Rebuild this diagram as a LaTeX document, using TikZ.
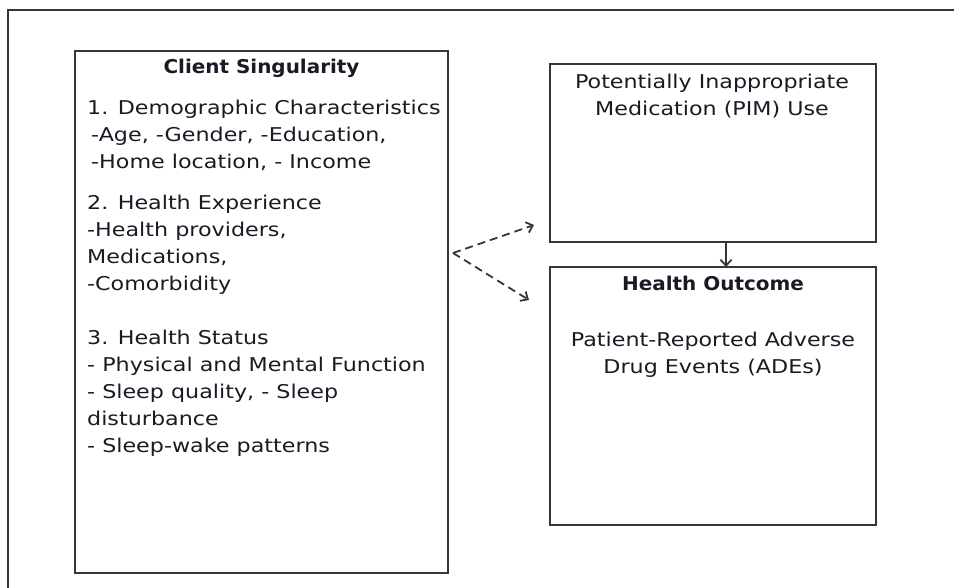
\documentclass[tikz,border=0pt]{standalone}
\usepackage{fontspec}
\setmainfont[FakeStretch=1.17,BoldFeatures={FakeStretch=1.05}]{DejaVu Sans}
\usetikzlibrary{positioning,arrows.meta}
\definecolor{boxgray}{HTML}{363636}
\definecolor{inkcol}{HTML}{1A1A24}

\begin{document}
\begin{tikzpicture}[x=1pt,y=-1pt,
    box/.style={draw=boxgray,line width=2pt,inner sep=0pt,outer sep=0pt},
    body/.style={inner sep=0pt,text=inkcol,font=\fontsize{19}{27}\selectfont},
    heading/.style={body,font=\fontsize{19}{27}\selectfont\bfseries},
    link/.style={draw=boxgray,line width=1.8pt,-{Straight Barb[length=6pt,width=11pt]}},
    dashedlink/.style={link,dash pattern=on 8pt off 5pt}]
    \useasboundingbox (0,0) rectangle (954,588);
    \draw[boxgray,line width=1.8pt] (8,588) -- (8,10) -- (954,10);

    \node[box,minimum width=373pt,minimum height=522pt] (client) at (261.5,312) {};
    \node[box,minimum width=326pt,minimum height=178pt] (pim) at (713,153) {};
    \node[box,minimum width=326pt,minimum height=258pt] (outcome) [below=25pt of pim] {};

    \node[heading,anchor=base] (clienttitle) at ([yshift=-23pt]client.north) {Client Singularity};
    \node[body,align=left,anchor=north west] (clientlist) at (87,100)
        {1. Demographic Characteristics\\
         \hspace{4pt}-Age, -Gender, -Education,\\
         \hspace{4pt}-Home location, - Income\\[14pt]
         2. Health Experience\\
         -Health providers,\\
         Medications,\\
         -Comorbidity\\[27pt]
         3. Health Status\\
         - Physical and Mental Function\\
         - Sleep quality, - Sleep\\
         disturbance\\
         - Sleep-wake patterns};

    \node[body,align=center,anchor=north] (pimtext) at ([xshift=-1pt,yshift=-10pt]pim.north)
        {Potentially Inappropriate\\Medication (PIM) Use};
    \node[heading,anchor=base] (outcometitle) at ([yshift=-24pt]outcome.north) {Health Outcome};
    \node[body,align=center,anchor=north] (outcometext) at ([yshift=-65pt]outcome.north)
        {Patient-Reported Adverse\\Drug Events (ADEs)};

    \coordinate (fork) at (453,253);
    \coordinate (toPim) at (534,225);
    \coordinate (toOutcome) at (529,300);
    \draw[dashedlink] (fork) -- (toPim);
    \draw[dashedlink] (fork) -- (toOutcome);
    \draw[link] ([xshift=13pt]pim.south) -- ([xshift=13pt]outcome.north);
\end{tikzpicture}
\end{document}
